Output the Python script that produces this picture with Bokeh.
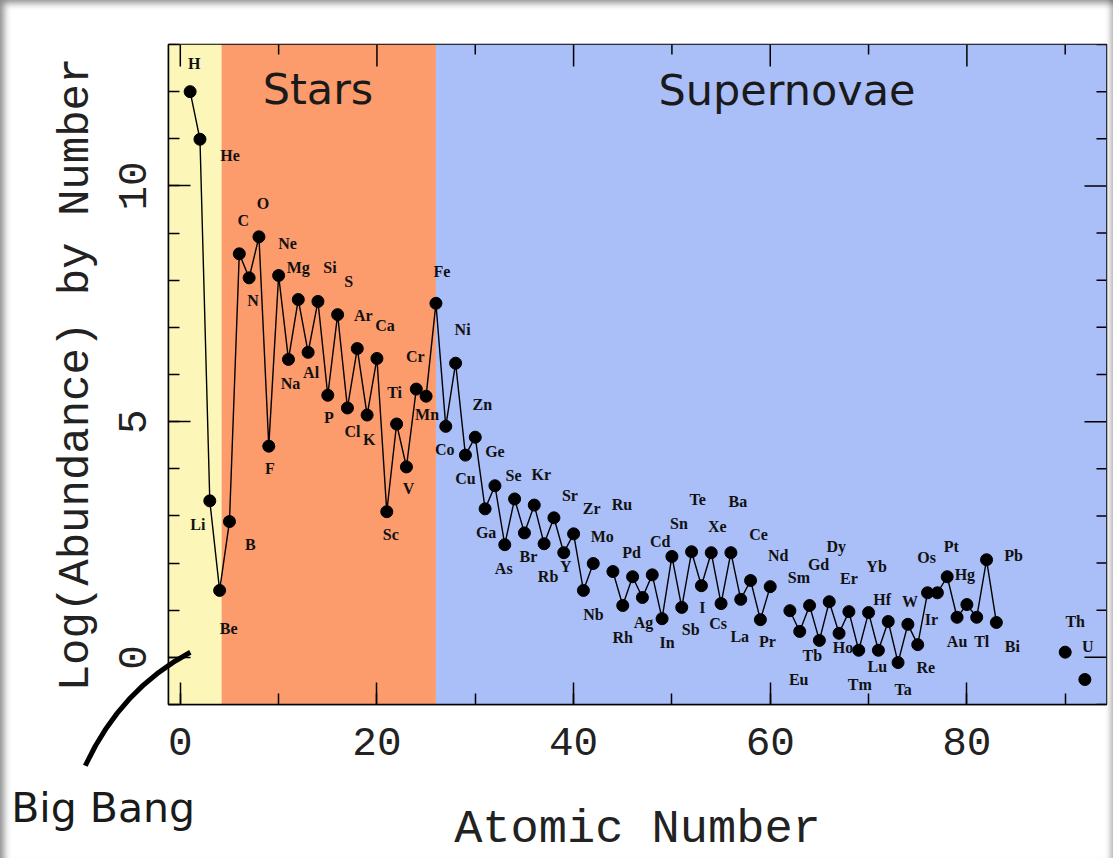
import math
from bokeh.plotting import figure
from bokeh.models import (Range1d, FixedTicker, BoxAnnotation, ColumnDataSource)
from bokeh.core.properties import value
from bokeh.embed import file_html
from bokeh.resources import INLINE

# ---------------- data ----------------
symbols = ["H", "He", "Li", "Be", "B", "C", "N", "O", "F", "Ne",
           "Na", "Mg", "Al", "Si", "P", "S", "Cl", "Ar", "K", "Ca",
           "Sc", "Ti", "V", "Cr", "Mn", "Fe", "Co", "Ni", "Cu", "Zn",
           "Ga", "Ge", "As", "Se", "Br", "Kr", "Rb", "Sr", "Y", "Zr",
           "Nb", "Mo", "Ru", "Rh", "Pd", "Ag", "Cd", "In", "Sn", "Sb",
           "Te", "I", "Xe", "Cs", "Ba", "La", "Ce", "Pr", "Nd", "Sm",
           "Eu", "Gd", "Tb", "Dy", "Ho", "Er", "Tm", "Yb", "Lu", "Hf",
           "Ta", "W", "Re", "Os", "Ir", "Pt", "Au", "Hg", "Tl", "Pb",
           "Bi", "Th", "U"]
atomic_numbers = [1, 2, 3, 4, 5, 6, 7, 8, 9, 10,
                  11, 12, 13, 14, 15, 16, 17, 18, 19, 20,
                  21, 22, 23, 24, 25, 26, 27, 28, 29, 30,
                  31, 32, 33, 34, 35, 36, 37, 38, 39, 40,
                  41, 42, 44, 45, 46, 47, 48, 49, 50, 51,
                  52, 53, 54, 55, 56, 57, 58, 59, 60, 62,
                  63, 64, 65, 66, 67, 68, 69, 70, 71, 72,
                  73, 74, 75, 76, 77, 78, 79, 80, 81, 82,
                  83, 90, 92]
log_abundance = [12.00, 10.99, 3.32, 1.42, 2.88, 8.56, 8.05, 8.92, 4.48, 8.10,
                 6.32, 7.59, 6.47, 7.55, 5.56, 7.27, 5.29, 6.55, 5.14, 6.34,
                 3.09, 4.95, 4.04, 5.69, 5.54, 7.51, 4.90, 6.24, 4.29, 4.67,
                 3.15, 3.64, 2.39, 3.36, 2.64, 3.23, 2.41, 2.96, 2.22, 2.62,
                 1.42, 1.99, 1.82, 1.10, 1.71, 1.27, 1.75, 0.82, 2.14, 1.06,
                 2.24, 1.52, 2.22, 1.14, 2.22, 1.23, 1.63, 0.80, 1.50, 0.99,
                 0.55, 1.10, 0.36, 1.18, 0.51, 0.97, 0.15, 0.95, 0.15, 0.76,
                 -0.11, 0.70, 0.27, 1.37, 1.37, 1.71, 0.85, 1.12, 0.85, 2.07,
                 0.74, 0.11, -0.47]

region_names = ["Big Bang", "Stars", "Supernovae"]
region_start = [-1.2, 4.2, 26.0]
region_end = [4.2, 26.0, 94.2]

x_ticks = [0, 20, 40, 60, 80]
x_minor_ticks = [0, 10, 20, 30, 40, 50, 60, 70, 80, 90]
y_ticks = [0, 5, 10]
y_minor_ticks = list(range(-1, 14))

# ---------------- layout / style (not data) ----------------
X0, X1, Y0, Y1 = -1.2, 94.2, -1.0, 13.0
region_colors = ["#FCF6B8", "#FC9B6C", "#AABEF7"]
region_label_pos = {"Stars": (14.0, 12.05), "Supernovae": (61.7, 12.03),
                    "Big Bang": (-17.2, -3.19)}
region_label_size = {"Stars": "43px", "Supernovae": "43px", "Big Bang": "41px"}

# label offsets in screen pixels (dx right, dy down)
label_offsets = {
    "H": (4, -28), "He": (30, 16), "Li": (-12, 24), "Be": (9, 38), "B": (21, 23),
    "C": (4, -33), "N": (4, 23), "O": (4, -33), "F": (1, 22), "Ne": (9, -32),
    "Na": (2, 24), "Mg": (0, -32), "Al": (3, 20), "Si": (12, -34), "P": (1, 22),
    "S": (11, -33), "Cl": (5, 24), "Ar": (6, -33), "K": (2, 24), "Ca": (8, -33),
    "Sc": (4, 23), "Ti": (-2, -32), "V": (2, 22), "Cr": (-1, -33), "Mn": (1, 18),
    "Fe": (6, -32), "Co": (-1, 23), "Ni": (7, -34), "Cu": (0, 23), "Zn": (7, -33),
    "Ga": (1, 24), "Ge": (0, -34), "As": (-1, 24), "Se": (-1, -23), "Br": (4, 24),
    "Kr": (7, -31), "Rb": (4, 33), "Sr": (16, -22), "Y": (2, 14), "Zr": (18, -25),
    "Nb": (10, 24), "Mo": (9, -27), "Ru": (9, -67), "Rh": (0, 32), "Pd": (-1, -24),
    "Ag": (1, 25), "Cd": (8, -33), "In": (5, 24), "Sn": (7, -33), "Sb": (9, 22),
    "Te": (6, -52), "I": (1, 22), "Xe": (6, -26), "Cs": (-3, 20), "Ba": (7, -51),
    "La": (-1, 37), "Ce": (8, -46), "Pr": (7, 22), "Nd": (8, -31), "Sm": (9, -33),
    "Eu": (-1, 48), "Gd": (9, -41), "Tb": (-7, 15), "Dy": (7, -55), "Ho": (4, 14),
    "Er": (0, -33), "Tm": (1, 34), "Yb": (8, -46), "Lu": (-1, 16), "Hf": (-6, -22),
    "Ta": (5, 27), "W": (2, -23), "Re": (8, 23), "Os": (-1, -35), "Ir": (-6, 27),
    "Pt": (4, -30), "Hg": (-2, -30), "Au": (0, 24), "Tl": (5, 24), "Pb": (27, -4),
    "Bi": (16, 24), "Th": (10, -31), "U": (3, -33),
}

MONO = "Liberation Mono"

p = figure(width=1113, height=858,
           x_range=Range1d(X0, X1), y_range=Range1d(Y0, Y1),
           output_backend="svg", toolbar_location=None,
           min_border_left=168, min_border_right=7,
           min_border_top=44, min_border_bottom=153,
           background_fill_color="white", border_fill_color="white",
           border_fill_alpha=0.0)
# soft grey shadow along the picture's left, top and right edges
p.styles = {"box-shadow": "inset 9px 8px 7px -5px rgba(0,0,0,0.45), "
                          "inset -7px 0px 6px -5px rgba(0,0,0,0.35)"}
p.xgrid.visible = False
p.ygrid.visible = False
p.outline_line_color = "black"
p.outline_line_width = 1.5

# region backgrounds
for s, e, c in zip(region_start, region_end, region_colors):
    p.add_layout(BoxAnnotation(left=s, right=e, fill_color=c, fill_alpha=1.0,
                               line_alpha=0, level="underlay"))

# region names (Stars, Supernovae inside; Big Bang below the axis)
for name in region_names:
    lx, ly = region_label_pos[name]
    r = p.text(x=[lx], y=[ly], text=[name], text_font=value("DejaVu Sans"),
               text_font_size=region_label_size[name],
               text_align="left" if name == "Big Bang" else "center",
               text_baseline="middle", text_color="#1a1a1a")
    r.level = "overlay"

# connecting line with gaps for missing elements
xl, yl = [], []
for i, (z, v) in enumerate(zip(atomic_numbers, log_abundance)):
    if i > 0 and z - atomic_numbers[i - 1] > 1:
        xl.append(float("nan"))
        yl.append(float("nan"))
    xl.append(z)
    yl.append(v)
p.line(xl, yl, line_color="black", line_width=1.4)
p.scatter(atomic_numbers, log_abundance, size=12, fill_color="black",
          line_color="black")

src = ColumnDataSource(dict(
    x=atomic_numbers, y=log_abundance, t=symbols,
    dx=[label_offsets[s][0] for s in symbols],
    dy=[label_offsets[s][1] for s in symbols],
))
p.text(x="x", y="y", text="t", x_offset="dx", y_offset="dy", source=src,
       text_font=value("Liberation Serif"), text_font_size="16px",
       text_font_style="bold", text_align="center", text_baseline="middle",
       text_color="#111111")

# Big Bang pointer stroke
curve = p.quadratic(x0=[-9.66], y0=[-2.30], x1=[1.02], y1=[0.11],
                    cx=[-6.1], cy=[-0.68], line_color="black", line_width=5)
curve.level = "overlay"

# top / right inward ticks (mirror of the bottom / left axes)
minor_x_only = [t for t in x_minor_ticks if t not in x_ticks]
minor_y_only = [t for t in y_minor_ticks if t not in y_ticks]
p.ray(x=x_ticks, y=[Y1] * len(x_ticks), length=22, length_units="screen",
      angle=-math.pi / 2, line_color="black", line_width=1.5)
p.ray(x=minor_x_only, y=[Y1] * len(minor_x_only), length=10,
      length_units="screen", angle=-math.pi / 2, line_color="black",
      line_width=1.5)
p.ray(x=[X1] * len(y_ticks), y=y_ticks, length=22, length_units="screen",
      angle=math.pi, line_color="black", line_width=1.5)
p.ray(x=[X1] * len(minor_y_only), y=minor_y_only, length=10,
      length_units="screen", angle=math.pi, line_color="black", line_width=1.5)

# axes
xa = p.xaxis[0]
xa.ticker = FixedTicker(ticks=x_ticks, minor_ticks=x_minor_ticks)
xa.axis_label = "Atomic Number"
ya = p.yaxis[0]
ya.ticker = FixedTicker(ticks=y_ticks, minor_ticks=y_minor_ticks)
ya.axis_label = "Log(Abundance) by Number"
ya.major_label_orientation = "parallel"

for ax in (xa, ya):
    ax.major_tick_in = 22
    ax.major_tick_out = 0
    ax.minor_tick_in = 11
    ax.minor_tick_out = 0
    ax.major_tick_line_width = 1.5
    ax.minor_tick_line_width = 1.5
    ax.axis_line_width = 1.5
    ax.major_label_text_font = MONO
    ax.major_label_text_font_size = "41px"
    ax.major_label_text_color = "#222222"
    ax.axis_label_text_font = MONO
    ax.axis_label_text_font_style = "normal"
    ax.axis_label_text_color = "#222222"
xa.axis_label_text_font_size = "47px"
ya.axis_label_text_font_size = "44px"
xa.major_label_standoff = 23
xa.axis_label_standoff = 45
ya.major_label_standoff = 22
ya.axis_label_standoff = 16

open("out.html", "w").write(file_html(p, INLINE))
